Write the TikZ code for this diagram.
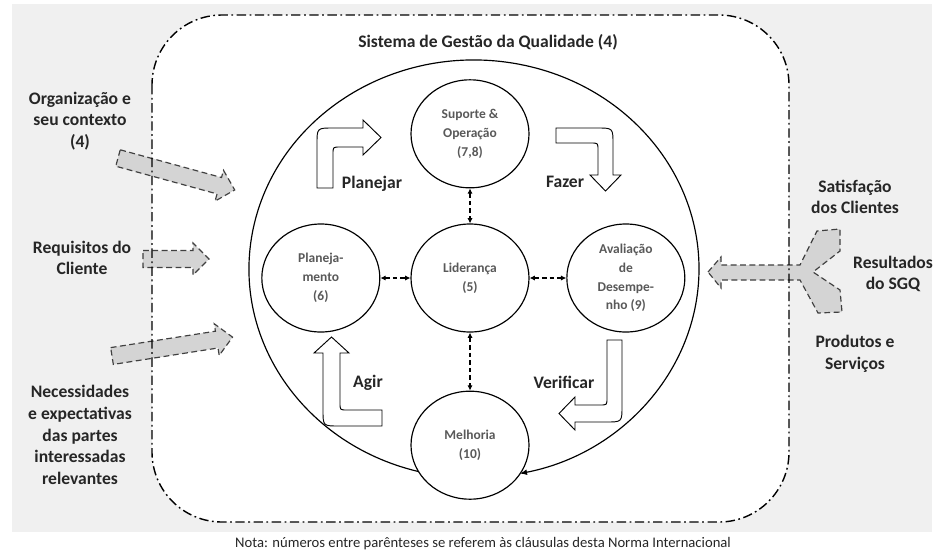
\documentclass[tikz,border=0pt]{standalone}
\usepackage{fontspec}
\setmainfont{Carlito}
\usetikzlibrary{arrows.meta,positioning,shapes.geometric}

\newcommand{\inarrow}[3]{%
  \draw[inflow, shift={#1}, rotate=#2] (0,-8.5) -- ({#3-16},-8.5) -- ({#3-16},-16) -- (#3,0)
    -- ({#3-16},16) -- ({#3-16},8.5) -- (0,8.5) -- cycle;}

\begin{document}
\begin{tikzpicture}[
    x=0.03cm, y=-0.03cm,
    >=Latex,
    line width=0.8pt,
    every node/.style={text=black!85},
    outtext/.style={font=\fontsize{15}{18.5}\selectfont\bfseries, align=center, inner sep=0pt},
    stage/.style={
        ellipse,
        draw=black,
        fill=white,
        line width=1pt,
        minimum width=3.54cm,
        minimum height=3.24cm,
        inner sep=0pt,
        align=center,
        text=black!65,
        font=\fontsize{11.5}{16}\selectfont\bfseries
    },
    link/.style={<->, >={Latex[length=4.5pt,width=4.5pt]}, dash pattern=on 4pt off 2.5pt, line width=1pt},
    hollow/.style={draw=black, fill=white, line width=0.8pt},
    inflow/.style={draw=black!75, fill=black!17, line width=1pt, dash pattern=on 5pt off 3pt},
    sysline/.style={line width=1.2pt, dash pattern=on 8pt off 3pt on 1.5pt off 3pt, rounded corners=2.1cm},
    pdcaloop/.style={->, >={Latex[length=6pt,width=5pt]}, line width=1pt}
]
\useasboundingbox (0,0) rectangle (936,554);
\fill[black!6] (12,4) rectangle (932,532);
\fill[white, rounded corners=2.1cm] (152,15) rectangle (789,522);

\inarrow{(118,158)}{-15.3}{121}
\inarrow{(143,259)}{0}{66}
\inarrow{(112,356)}{8.9}{122}
\draw[inflow] (708,272) -- (721,257) -- (721,265) -- (800,265) -- (817,231) -- (840,229) -- (840,251)
    -- (813,272) -- (840,290) -- (842,312) -- (818,313) -- (800,280) -- (721,280) -- (721,288) -- cycle;

\draw[sysline] (152,15) rectangle (789,522);

\node[outtext] (title) at (488,42) {Sistema de Gestão da Qualidade (4)};

\draw[pdcaloop] (434.9,474.8) arc[start angle=100, end angle=438.2, x radius=225, y radius=209];

\node[stage] (lid) at (470,278) {Liderança\\(5)};
\node[stage, above=1.05cm of lid] (sup) {Suporte \&\\Operação\\(7,8)};
\node[stage, left=0.9cm of lid] (plan) {Planeja-\\mento\\(6)};
\node[stage, right=1.1cm of lid] (aval) {Avaliação\\de\\Desempe-\\nho (9)};
\node[stage, below=1.74cm of lid] (melh) {Melhoria\\(10)};

\draw[link] (sup) -- (lid);
\draw[link] (plan) -- (lid);
\draw[link] (lid) -- (aval);
\draw[link] (lid) -- (melh);

\draw[hollow] (317,188) -- (317,144) .. controls (317,128) .. (333,128) -- (363,128) -- (363,120) -- (381,137.5)
    -- (363,155) -- (363,147) -- (340,147) .. controls (333,147) .. (333,154) -- (333,188) -- cycle;
\draw[hollow] (556,128) -- (597,128) .. controls (613,128) .. (613,144) -- (613,175) -- (621,175) -- (605.5,191)
    -- (590,175) -- (598,175) -- (598,150) .. controls (598,143) .. (591,143) -- (556,143) -- cycle;
\draw[hollow] (607,340) -- (622,340) -- (622,406) .. controls (622,422) .. (606,422) -- (575,422) -- (575,430)
    -- (559,413.5) -- (575,397) -- (575,405) -- (600,405) .. controls (607,405) .. (607,398) -- cycle;
\draw[hollow] (382,410) -- (382,426) -- (339,426) .. controls (323,426) .. (323,410) -- (323,353) -- (314,353)
    -- (331.5,337) -- (349,353) -- (340,353) -- (340,403) .. controls (340,410) .. (347,410) -- cycle;

\node[outtext] (lplan) at (372,184) {Planejar};
\node[outtext] (lfaz) at (565,182) {Fazer};
\node[outtext] (lagir) at (368,383) {Agir};
\node[outtext] (lver) at (564,382) {Verificar};

\node[outtext] (org) at (80,121) {Organização e\\seu contexto\\(4)};
\node[outtext] (req) at (82,258) {Requisitos do\\Cliente};
\node[outtext] (nec) at (80,435) {Necessidades\\e expectativas\\das partes\\interessadas\\relevantes};
\node[outtext] (sat) at (855,197) {Satisfação\\dos Clientes};
\node[outtext] (res) at (893,274) {Resultados\\do SGQ};
\node[outtext] (prod) at (855,354) {Produtos e\\Serviços};

\node[font=\fontsize{12.5}{15}\selectfont, inner sep=0pt] (nota) at (483,544)
    {Nota: números entre parênteses se referem às cláusulas desta Norma Internacional};
\end{tikzpicture}
\end{document}
